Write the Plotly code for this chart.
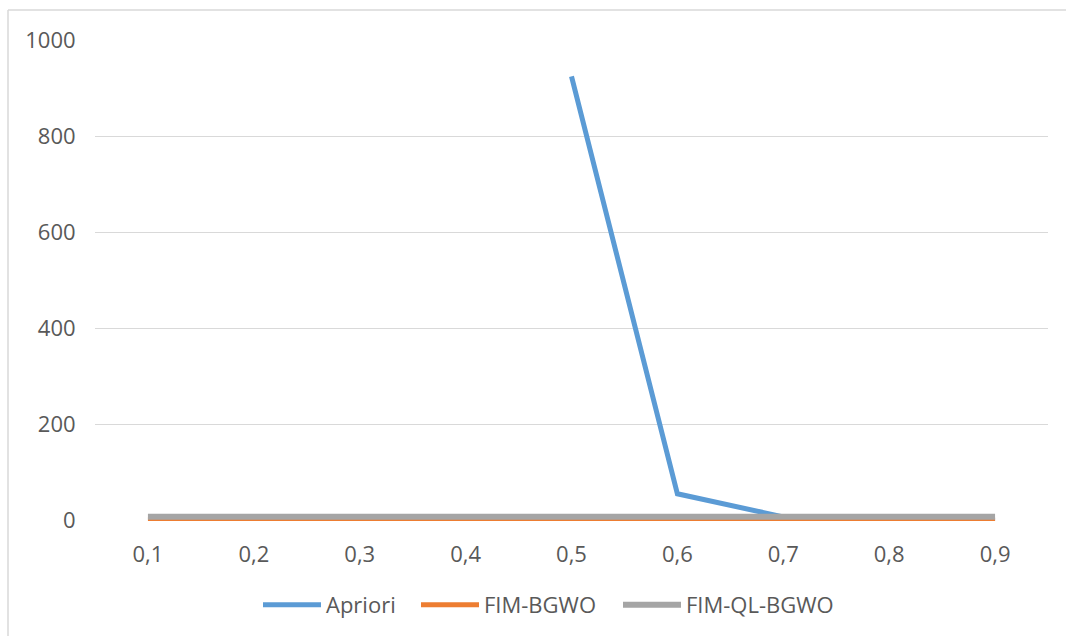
import plotly.graph_objects as go

categories = ["0,1", "0,2", "0,3", "0,4", "0,5", "0,6", "0,7", "0,8", "0,9"]
apriori = [None, None, None, None, 925, 56, 8, 1, 0.3]
fim_bgwo = [2, 2, 2, 2, 2, 2, 2, 2, 2]
fim_ql_bgwo = [8, 8, 8, 8, 8, 8, 8, 8, 8]
y_ticks = [0, 200, 400, 600, 800, 1000]

W, H = 1066, 636
L, R, T, B = 95, 18, 40, 115
pw, ph = W - L - R, H - T - B

fig = go.Figure()
fig.add_trace(go.Scatter(x=categories, y=apriori, name="Apriori", mode="lines",
                         line=dict(color="#5B9BD5", width=5), connectgaps=False,
                         legend="legend"))
fig.add_trace(go.Scatter(x=categories, y=fim_bgwo, name="FIM-BGWO", mode="lines",
                         line=dict(color="#ED7D31", width=5), legend="legend2"))
fig.add_trace(go.Scatter(x=categories, y=fim_ql_bgwo, name="FIM-QL-BGWO", mode="lines",
                         line=dict(color="#A5A5A5", width=6), legend="legend3"))

bx = (8 - L) / pw
by = (H - B - 10) / ph
border = "#d9d9d9"
fig.add_shape(type="line", xref="paper", yref="paper", x0=bx, x1=bx, y0=-1, y1=by,
              line=dict(color=border, width=1.5))
fig.add_shape(type="line", xref="paper", yref="paper", x0=bx, x1=1.5, y0=by, y1=by,
              line=dict(color=border, width=1.5))


def leg(px_left):
    return dict(orientation="h", x=(px_left - L) / pw, xanchor="left",
                y=(H - B - 605) / ph, yanchor="middle",
                font=dict(size=22, color="#595959"), itemwidth=58,
                bgcolor="rgba(0,0,0,0)")


fig.update_layout(
    width=W, height=H,
    margin=dict(l=L, r=R, t=T, b=B, autoexpand=False),
    paper_bgcolor="white", plot_bgcolor="white",
    font=dict(family="Open Sans", size=22, color="#595959"),
    showlegend=True,
    legend=leg(258),
    legend2=leg(416),
    legend3=leg(618),
    xaxis=dict(type="category", categoryorder="array", categoryarray=categories,
               showgrid=False, zeroline=False, showline=False,
               ticks="outside", ticklen=14, tickcolor="rgba(0,0,0,0)",
               tickfont=dict(size=22),
               range=[-0.5, len(categories) - 0.5]),
    yaxis=dict(range=[-0.6, 1000.6], tickvals=y_ticks, showgrid=True,
               gridcolor="#d9d9d9", gridwidth=1, zeroline=False, showline=False,
               ticks="outside", ticklen=14, tickcolor="rgba(0,0,0,0)",
               tickfont=dict(size=22)),
)

fig.write_html("out.html")
